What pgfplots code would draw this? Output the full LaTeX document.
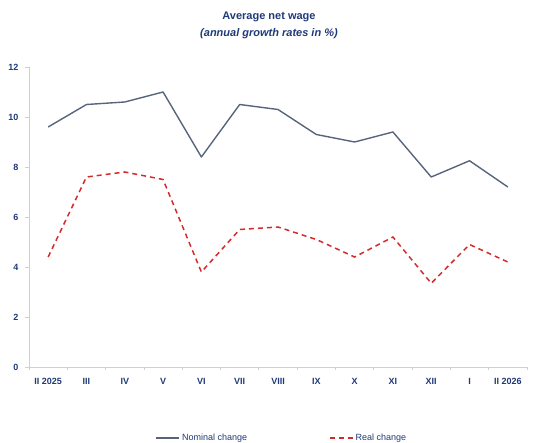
\documentclass[border=0pt]{standalone}
\usepackage{fontspec}
\setmainfont{Liberation Sans}
\usepackage{pgfplots}
\pgfplotsset{compat=1.18}
\definecolor{navy}{HTML}{1F3A78}
\definecolor{nomc}{HTML}{56647C}
\definecolor{realc}{HTML}{D42A2A}
\definecolor{axgray}{HTML}{D0D0D0}
\begin{document}
\begin{tikzpicture}
\path[use as bounding box] (-29bp,-76bp) rectangle (516bp,367bp);
\begin{axis}[
  at={(0,0)}, anchor=south west,
  scale only axis, width=498bp, height=300bp,
  xmin=-0.5, xmax=12.5, ymin=0, ymax=12,
  axis lines=left, axis line style={axgray, line width=0.8pt, -},
  xtick={0,...,12},
  xticklabels={II 2025,III,IV,V,VI,VII,VIII,IX,X,XI,XII,I,II 2026},
  major x tick style={draw=none},
  minor xtick={-0.5,0.5,...,12.5},
  minor tick length=3bp,
  minor x tick style={axgray, line width=0.8pt},
  ytick={0,2,...,12},
  major tick length=4bp,
  y tick style={axgray, line width=0.8pt},
  tick align=outside,
  ticklabel style={font=\fontsize{9bp}{10bp}\selectfont\bfseries, text=navy},
  /pgf/number format/assume math mode=true,
  xticklabel style={yshift=-4bp},
  yticklabel style={xshift=-3bp},
  legend columns=2,
  legend style={at={(axis description cs:0.508,-0.237)}, anchor=center, draw=none, fill=none,
    font=\fontsize{9bp}{10bp}\selectfont, text=navy,
    /tikz/every even column/.append style={column sep=80bp}},
  legend image code/.code={\draw[#1] (0bp,0bp) -- (23bp,0bp);},
]
\addplot[nomc, line width=1.4pt, line join=round] coordinates {
(0,9.6) (1,10.5) (2,10.6) (3,11.0) (4,8.4) (5,10.5) (6,10.3) (7,9.3) (8,9.0) (9,9.4) (10,7.6) (11,8.25) (12,7.2)};
\addlegendentry{Nominal change}
\addplot[realc, line width=1.5pt, dash pattern=on 5bp off 4bp] coordinates {
(0,4.4) (1,7.6) (2,7.8) (3,7.5) (4,3.8) (5,5.5) (6,5.6) (7,5.1) (8,4.4) (9,5.2) (10,3.35) (11,4.9) (12,4.2)};
\addlegendentry{Real change}
\end{axis}
\node[text=navy, font=\fontsize{11bp}{12bp}\selectfont\bfseries] at (240bp,350bp) {Average net wage};
\node[text=navy, font=\fontsize{11bp}{12bp}\selectfont\bfseries\itshape] at (240bp,333bp) {(annual growth rates in \%)};
\end{tikzpicture}
\end{document}
